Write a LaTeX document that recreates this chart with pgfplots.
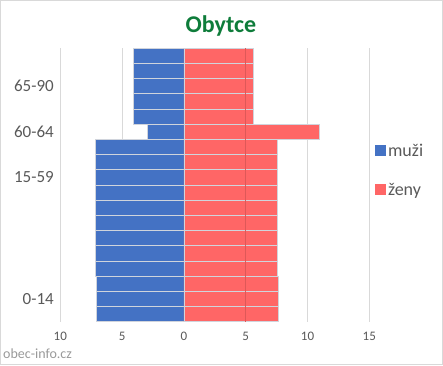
\documentclass[border=0pt]{standalone}
\usepackage{pgfplots}
\pgfplotsset{compat=1.18}
\usepackage{fontspec}
\setmainfont{Carlito}
\definecolor{menblue}{HTML}{4472C4}
\definecolor{womenred}{HTML}{FF6666}
\definecolor{gridgray}{HTML}{D9D9D9}
\definecolor{labgray}{HTML}{595959}
\definecolor{titlegreen}{HTML}{0E7C3A}
\definecolor{sepgray}{HTML}{D0D4DC}
\definecolor{gridred}{HTML}{DE5858}
\begin{document}
\begin{tikzpicture}[x=1pt,y=1pt]
\path[use as bounding box] (0,0) rectangle (443,365);
\draw[gridgray, line width=1pt] (0.5,0.5) rectangle (442.5,364.5);
\begin{axis}[
  at={(60.3pt,43.3pt)}, anchor=south west,
  scale only axis, width=309pt, height=273.4pt,
  xmin=-10, xmax=15, ymin=0.5, ymax=18.5,
  xbar, bar width=1, bar shift=0pt,
  axis line style={draw=none},
  major tick length=0pt,
  xmajorgrids, grid style={gridgray, line width=1pt},
  xtick={-10,-5,0,5,10,15},
  xticklabels={10,5,0,5,10,15},
  ytick={2,10,13,16},
  yticklabels={0-14,15-59,60-64,65-90},
  /pgf/number format/assume math mode=true,
  xticklabel style={font=\fontsize{13}{15}\selectfont, text=labgray, yshift=-7pt},
  yticklabel style={font=\fontsize{17}{20}\selectfont, text=labgray, xshift=-3pt},
  legend style={at={(1.018,0.553)}, anchor=west, draw=none, fill=none,
    font=\fontsize{18}{21}\selectfont, text=labgray, row sep=22pt,
    inner sep=0pt, cells={anchor=west}},
  legend image code/.code={\fill[#1, draw=none] (0pt,-5pt) rectangle (11pt,6pt);},
]
\addplot[fill=menblue, draw=sepgray, line width=0.8pt] coordinates {
(-7.04,1) (-7.04,2) (-7.04,3)
(-7.17,4) (-7.17,5) (-7.17,6) (-7.17,7) (-7.17,8) (-7.17,9) (-7.17,10) (-7.17,11) (-7.17,12)
(-2.96,13)
(-4.05,14) (-4.05,15) (-4.05,16) (-4.05,17) (-4.05,18)
};
\addlegendentry{muži}
\addplot[fill=womenred, draw=sepgray, line width=0.8pt] coordinates {
(7.64,1) (7.64,2) (7.64,3)
(7.53,4) (7.53,5) (7.53,6) (7.53,7) (7.53,8) (7.53,9) (7.53,10) (7.53,11) (7.53,12)
(10.93,13)
(5.59,14) (5.59,15) (5.59,16) (5.59,17) (5.59,18)
};
\addlegendentry{ženy}
\addplot[forget plot, sharp plot, gridred, line width=0.8pt] coordinates {(5,0.5) (5,18.5)};
\end{axis}
\node[anchor=base, font=\fontsize{24}{28}\selectfont\bfseries, text=titlegreen] at (221,332.7) {Obytce};
\node[anchor=base west, inner sep=0pt, font=\fontsize{14}{16}\selectfont, text=gray!80] at (3,7) {obec-info.cz};
\end{tikzpicture}
\end{document}
